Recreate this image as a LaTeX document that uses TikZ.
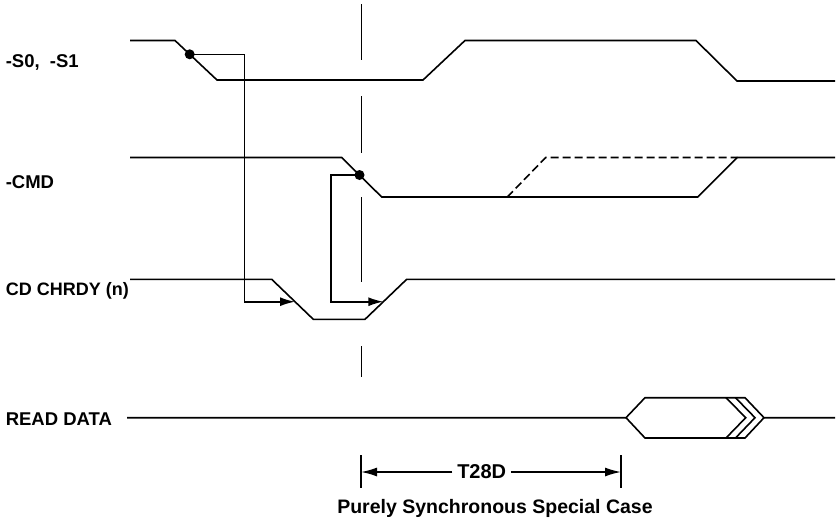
\documentclass[tikz,border=0pt]{standalone}
\usepackage{fontspec}
\setmainfont{Liberation Sans}
\usetikzlibrary{arrows.meta}
\begin{document}
\begin{tikzpicture}[x=1pt,y=-1pt, line width=1.6pt, line join=miter,
  lbl/.style={font=\bfseries\fontsize{18.5}{20}\selectfont, anchor=west, inner sep=0pt},
  arr/.style={-{Latex[length=15pt,width=9pt]}},
  dimarr/.style={-{Latex[length=16pt,width=9pt]}},
  dotmark/.style={circle, fill=black, inner sep=0pt, minimum size=10pt},
  guide/.style={line width=1.4pt}]
\useasboundingbox (0,0) rectangle (838,523);

% labels
\node[lbl] (ls)   at (5,62)    {-S0,\ \ -S1};
\node[lbl] (lcmd) at (5,182)   {-CMD};
\node[lbl, font=\bfseries\fontsize{18}{20}\selectfont] (lrdy) at (5,291) {CD CHRDY (n)};
\node[lbl] (lrd)  at (5,419.3) {READ DATA};

% -S0, -S1
\draw (130,40.5) -- (175,40.5) -- (217,80) -- (423,80) -- (465,40.5) -- (696,40.5) -- (737,81) -- (835,81);
\node[dotmark] (d1) at (189.7,54.3) {};

% -CMD
\draw (130,157.5) -- (341.7,157.5) -- (381.7,197) -- (697.7,197) -- (737.3,157.5) -- (835,157.5);
\draw[dash pattern=on 8pt off 4pt] (507.3,197) -- (545.7,157.5) -- (737.3,157.5);
\node[dotmark] (d2) at (359.5,175) {};

% CD CHRDY (n)
\draw (130,279.3) -- (271.7,279.3) -- (313.3,319.3) -- (365,319.3) -- (406.7,279.3) -- (835,279.3);
\coordinate (fall) at (295,301.7);
\coordinate (rise) at (383.3,301.7);

% cause arrows
\draw[arr] (d1.center) -- (244.3,54.3) -- (244.3,301.7) -- (fall);
\draw[arr] (d2.center) -- (330.7,175) -- (330.7,301.7) -- (rise);

% READ DATA
\draw (127,417.7) -- (626,417.7) -- (645,397.7) -- (745,397.7) -- (764,417.7) -- (835,417.7);
\draw (626,417.7) -- (645,438) -- (745,438) -- (764,417.7);
\draw (726,397.7) -- (745.7,417.7) -- (726,438);
\draw (735.5,397.7) -- (755,417.7) -- (735.5,438);

% vertical reference line
\draw[guide] (361.5,4) -- (361.5,60);
\draw[guide] (361.5,96) -- (361.5,153);
\draw[guide] (361.5,197) -- (361.5,282);
\draw[guide] (361.5,346) -- (361.5,377);

% T28D dimension
\draw[guide] (361,455) -- (361,488);
\draw[guide] (621,455) -- (621,488);
\coordinate (bl) at (361,472);
\coordinate (br) at (621,472);
\node[lbl, anchor=center, inner sep=4pt, font=\bfseries\fontsize{20}{22}\selectfont] (t28) at (481.7,472) {T28D};
\draw[dimarr] (t28.west) -- (bl);
\draw[dimarr] (t28.east) -- (br);

\node[lbl, anchor=center, font=\bfseries\fontsize{19.5}{22}\selectfont] (cap) at (495,508) {Purely Synchronous Special Case};
\end{tikzpicture}
\end{document}
